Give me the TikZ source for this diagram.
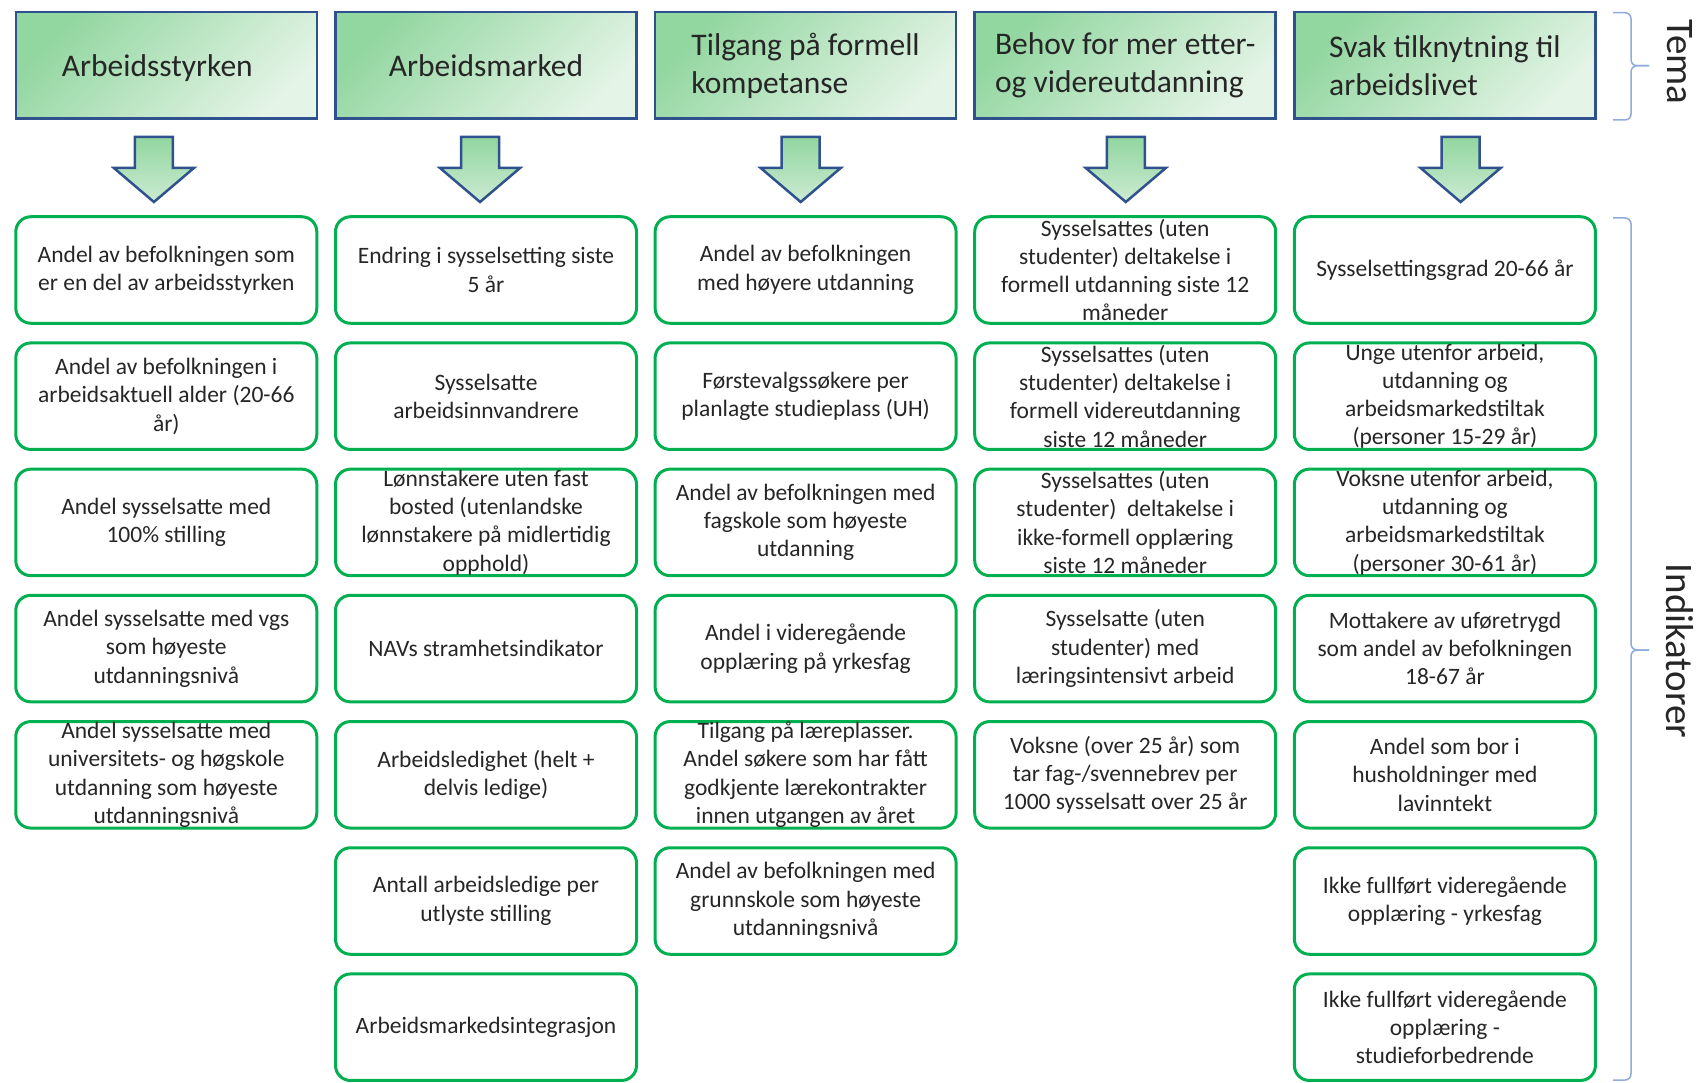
\documentclass[tikz,border=0pt]{standalone}
\usepackage{fontspec}
\setmainfont{Carlito}
\definecolor{temablaa}{RGB}{47,82,143}
\definecolor{temagronn}{RGB}{146,214,160}
\definecolor{temalys}{RGB}{228,244,230}
\definecolor{indgronn}{RGB}{0,176,80}
\definecolor{klamme}{RGB}{143,170,220}
\definecolor{tekst}{RGB}{38,38,38}

\begin{document}
\begin{tikzpicture}[
                x=1pt, y=-1pt,
                tema/.style={draw=temablaa, line width=2.5pt, top color=temagronn, bottom color=temalys, shading angle=45, minimum width=301pt, minimum height=106.5pt, inner sep=0pt, align=left, text=tekst, font=\fontsize{31.5}{38}\selectfont},
                ind/.style={draw=indgronn, line width=3pt, rounded corners=15pt, fill=white, minimum width=301pt, minimum height=106.5pt, inner sep=0pt, align=center, text=tekst, font=\fontsize{23.5}{28.3}\selectfont},
                pil/.style={draw=temablaa, line width=2.5pt, line join=miter, top color=temagronn, bottom color=temalys!70!temagronn},
                klammer/.style={draw=klamme, line width=1.5pt, rounded corners=6pt},
                etikett/.style={rotate=-90, text=tekst, font=\fontsize{39}{40}\selectfont},
            ]
                \useasboundingbox (0,0) rectangle (1699,1083);
                \node[tema, text depth=0pt] (t1) at (166.3, 65.5) {Arbeidsstyrken\hspace*{18pt}};
                \node[tema] (t2) at (486, 65.5) {Arbeidsmarked};
                \node[tema] (t3) at (805.6, 65.5) {Tilgang på formell\\kompetanse};
                \node[tema] (t4) at (1125.2, 65.5) {Behov for mer etter-\\og videreutdanning};
                \node[tema] (t5) at (1444.9, 65.5) {Svak tilknytning til\\arbeidslivet};
                \draw[pil] (134.9,137) -- ++(38,0) -- ++(0,31) -- ++(21,0) -- ++(-40,34) -- ++(-40,-34) -- ++(21,0) -- cycle;
                \draw[pil] (461,137) -- ++(38,0) -- ++(0,31) -- ++(21,0) -- ++(-40,34) -- ++(-40,-34) -- ++(21,0) -- cycle;
                \draw[pil] (781.7,137) -- ++(38,0) -- ++(0,31) -- ++(21,0) -- ++(-40,34) -- ++(-40,-34) -- ++(21,0) -- cycle;
                \draw[pil] (1106.8,137) -- ++(38,0) -- ++(0,31) -- ++(21,0) -- ++(-40,34) -- ++(-40,-34) -- ++(21,0) -- cycle;
                \draw[pil] (1441.6,137) -- ++(38,0) -- ++(0,31) -- ++(21,0) -- ++(-40,34) -- ++(-40,-34) -- ++(21,0) -- cycle;
                \node[ind] (i11) at (166.3, 270) {Andel av befolkningen som\\er en del av arbeidsstyrken};
                \node[ind] (i12) at (166.3, 396.2) {Andel av befolkningen i\\arbeidsaktuell alder (20-66\\år)};
                \node[ind] (i13) at (166.3, 522.4) {Andel sysselsatte med\\100\% stilling};
                \node[ind] (i14) at (166.3, 648.6) {Andel sysselsatte med vgs\\som høyeste\\utdanningsnivå};
                \node[ind] (i15) at (166.3, 774.8) {Andel sysselsatte med\\universitets- og høgskole\\utdanning som høyeste\\utdanningsnivå};
                \node[ind] (i21) at (486, 270) {Endring i sysselsetting siste\\5 år};
                \node[ind] (i22) at (486, 396.2) {Sysselsatte\\arbeidsinnvandrere};
                \node[ind] (i23) at (486, 522.4) {Lønnstakere uten fast\\bosted (utenlandske\\lønnstakere på midlertidig\\opphold)};
                \node[ind] (i24) at (486, 648.6) {NAVs stramhetsindikator};
                \node[ind] (i25) at (486, 774.8) {Arbeidsledighet (helt +\\delvis ledige)};
                \node[ind] (i26) at (486, 901) {Antall arbeidsledige per\\utlyste stilling};
                \node[ind] (i27) at (486, 1027.2) {Arbeidsmarkedsintegrasjon};
                \node[ind] (i31) at (805.6, 270) {Andel av befolkningen\\med høyere utdanning};
                \node[ind] (i32) at (805.6, 396.2) {Førstevalgssøkere per\\planlagte studieplass (UH)};
                \node[ind] (i33) at (805.6, 522.4) {Andel av befolkningen med\\fagskole som høyeste\\utdanning};
                \node[ind] (i34) at (805.6, 648.6) {Andel i videregående\\opplæring på yrkesfag};
                \node[ind] (i35) at (805.6, 774.8) {Tilgang på læreplasser.\\Andel søkere som har fått\\godkjente lærekontrakter\\innen utgangen av året};
                \node[ind] (i36) at (805.6, 901) {Andel av befolkningen med\\grunnskole som høyeste\\utdanningsnivå};
                \node[ind] (i41) at (1125.2, 270) {Sysselsattes (uten\\studenter) deltakelse i\\formell utdanning siste 12\\måneder};
                \node[ind] (i42) at (1125.2, 396.2) {Sysselsattes (uten\\studenter) deltakelse i\\formell videreutdanning\\siste 12 måneder};
                \node[ind] (i43) at (1125.2, 522.4) {Sysselsattes (uten\\studenter)\ \ deltakelse i\\ikke-formell opplæring\\siste 12 måneder};
                \node[ind] (i44) at (1125.2, 648.6) {Sysselsatte (uten\\studenter) med\\læringsintensivt arbeid};
                \node[ind] (i45) at (1125.2, 774.8) {Voksne (over 25 år) som\\tar fag-/svennebrev per\\1000 sysselsatt over 25 år};
                \node[ind] (i51) at (1444.9, 270) {Sysselsettingsgrad 20-66 år};
                \node[ind] (i52) at (1444.9, 396.2) {Unge utenfor arbeid,\\utdanning og\\arbeidsmarkedstiltak\\(personer 15-29 år)};
                \node[ind] (i53) at (1444.9, 522.4) {Voksne utenfor arbeid,\\utdanning og\\arbeidsmarkedstiltak\\(personer 30-61 år)};
                \node[ind] (i54) at (1444.9, 648.6) {Mottakere av uføretrygd\\som andel av befolkningen\\18-67 år};
                \node[ind] (i55) at (1444.9, 774.8) {Andel som bor i\\husholdninger med\\lavinntekt};
                \node[ind] (i56) at (1444.9, 901) {Ikke fullført videregående\\opplæring - yrkesfag};
                \node[ind] (i57) at (1444.9, 1027.2) {Ikke fullført videregående\\opplæring -\\studieforbedrende};
                \draw[klammer] (1613,12.7) -- (1631,12.7) -- (1631,65.7) -- (1649,65.7);
                \draw[klammer] (1649,65.7) -- (1631,65.7) -- (1631,120) -- (1613,120);
                \draw[klammer] (1613,218) -- (1631,218) -- (1631,650) -- (1649,650);
                \draw[klammer] (1649,650) -- (1631,650) -- (1631,1080) -- (1613,1080);
                \node[etikett] (tema) at (1680, 62) {Tema};
                \node[etikett] (indikatorer) at (1680, 651) {Indikatorer};
            \end{tikzpicture}
\end{document}
